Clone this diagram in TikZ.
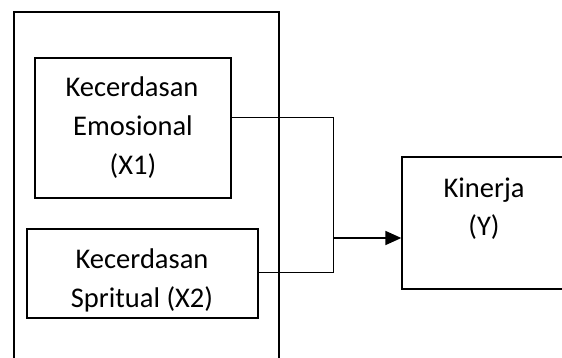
\documentclass[tikz,border=0pt]{standalone}
\usepackage{fontspec}
\setmainfont{Carlito}
\usetikzlibrary{arrows.meta}
\begin{document}
\begin{tikzpicture}[x=1pt,y=-1pt,
  frame/.style={draw, line width=1.3pt, inner sep=0pt},
  txt/.style={anchor=base, inner sep=0pt, font=\fontsize{28.5}{40}\selectfont},
  link/.style={draw, line width=0.9pt},
  flow/.style={draw, line width=1.8pt, -{Triangle[length=16pt,width=14pt]}}]
\useasboundingbox (0,0) rectangle (562,358);
\clip (0,0) rectangle (562,358);

% group frame (runs past the lower edge)
\node[frame, minimum width=265pt, minimum height=400pt] (group) at (146.5,212) {};

% variable boxes
\node[frame, minimum width=196pt, minimum height=140pt] (emo) at (133,128) {};
\node[frame, minimum width=231pt, minimum height=89pt] (spi) at (142.5,273.5) {};
\node[frame, minimum width=188pt, minimum height=132pt] (kin) at (496,223) {};

% labels
\node[txt] (emo1) at (132,97) {Kecerdasan};
\node[txt] (emo2) at (133,136) {Emosional};
\node[txt] (emo3) at (133,175) {(X1)};
\node[txt] (spi1) at (142,268) {Kecerdasan};
\node[txt] (spi2) at (142,307) {Spritual (X2)};
\node[txt] (kin1) at (484,197) {Kinerja};
\node[txt] (kin2) at (484,236) {(Y)};

% bracket joining X1 and X2, then the arrow to Y
\coordinate (jt) at (333,117);
\coordinate (jb) at (333,272);
\coordinate (jm) at (333,238);
\draw[link] ([yshift=11pt]emo.east) -- (jt) -- (jb) -- ([yshift=1.5pt]spi.east);
\draw[flow] (jm) -- (kin.west |- jm);
\end{tikzpicture}
\end{document}
